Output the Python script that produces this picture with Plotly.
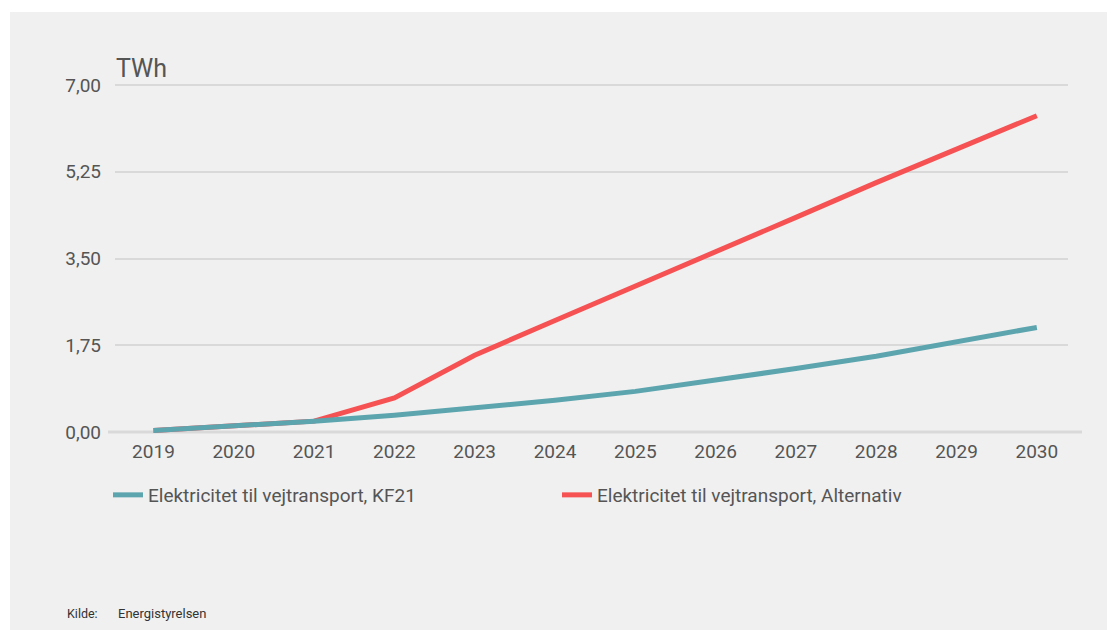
import plotly.graph_objects as go

years = [2019, 2020, 2021, 2022, 2023, 2024, 2025, 2026, 2027, 2028, 2029, 2030]
kf21 = [0.03, 0.12, 0.22, 0.34, 0.48, 0.64, 0.82, 1.04, 1.28, 1.53, 1.81, 2.11]
alternativ = [0.03, 0.12, 0.22, 0.69, 1.55, 2.25, 2.94, 3.62, 4.33, 5.03, 5.71, 6.38]
y_ticks = [0, 1.75, 3.5, 5.25, 7.0]
y_ticktext = ["0,00", "1,75", "3,50", "5,25", "7,00"]
name_kf21 = "Elektricitet til vejtransport, KF21"
name_alt = "Elektricitet til vejtransport, Alternativ"

TEAL = "#5ca5af"
RED = "#f65153"
BG = "#f0f0f0"
TXT = "#555555"
GRID = "#d9d9d9"

OFF = 8  # page body offset
W, H = 1115, 630
L, R = 115 - OFF, W - (1068 - OFF)
top_px, bot_px = 80 - OFF, 438 - OFF
T, B = top_px, H - bot_px
pw = W - L - R
ph = H - T - B


def px(xp):
    return (xp - OFF - L) / pw


def py(yp):
    return (bot_px - (yp - OFF)) / ph


fig = go.Figure()
fig.add_trace(go.Scatter(x=years, y=alternativ, name=name_alt, mode="lines",
                         line=dict(color=RED, width=5), legendrank=2))
fig.add_trace(go.Scatter(x=years, y=kf21, name=name_kf21, mode="lines",
                         line=dict(color=TEAL, width=5), legendrank=1))

# gray panel
fig.add_shape(type="rect", xref="paper", yref="paper",
              x0=px(10), x1=1.2, y0=-0.8, y1=py(12),
              fillcolor=BG, line=dict(width=0), layer="below")
# baseline
fig.add_shape(type="line", xref="paper", yref="y",
              x0=px(108), x1=px(1082), y0=0, y1=0,
              line=dict(color=GRID, width=3), layer="below")

fig.add_annotation(text="TWh", xref="paper", yref="paper",
                   x=px(114), y=py(69), xanchor="left", yanchor="middle",
                   showarrow=False, font=dict(size=25, color=TXT))
fig.add_annotation(text="Kilde:", xref="paper", yref="paper",
                   x=px(65), y=py(613), xanchor="left", yanchor="middle",
                   showarrow=False, font=dict(size=12.5, color="#333333"))
fig.add_annotation(text="Energistyrelsen", xref="paper", yref="paper",
                   x=px(116), y=py(613), xanchor="left", yanchor="middle",
                   showarrow=False, font=dict(size=13, color="#333333"))

fig.update_layout(
    width=W, height=H,
    margin=dict(l=L, r=R, t=T, b=B),
    paper_bgcolor="white",
    plot_bgcolor=BG,
    font=dict(family="Roboto", size=19, color=TXT),
    showlegend=True,
    legend=dict(orientation="h", x=px(108), y=py(495),
                xanchor="left", yanchor="middle", bgcolor="rgba(0,0,0,0)",
                font=dict(size=19, color=TXT), entrywidth=404, entrywidthmode="pixels",
                itemwidth=30),
    xaxis=dict(range=[2018.521, 2030.388], tickvals=years, showgrid=False,
               zeroline=False, showline=False, ticks="",
               tickfont=dict(size=19, color=TXT)),
    yaxis=dict(range=[-0.12, 7.1], tickvals=y_ticks, ticktext=y_ticktext,
               showgrid=True, gridcolor=GRID, gridwidth=2, zeroline=False,
               ticks="", ticklabelstandoff=13, tickfont=dict(size=19, color=TXT)),
)

fig.write_html("out.html")
